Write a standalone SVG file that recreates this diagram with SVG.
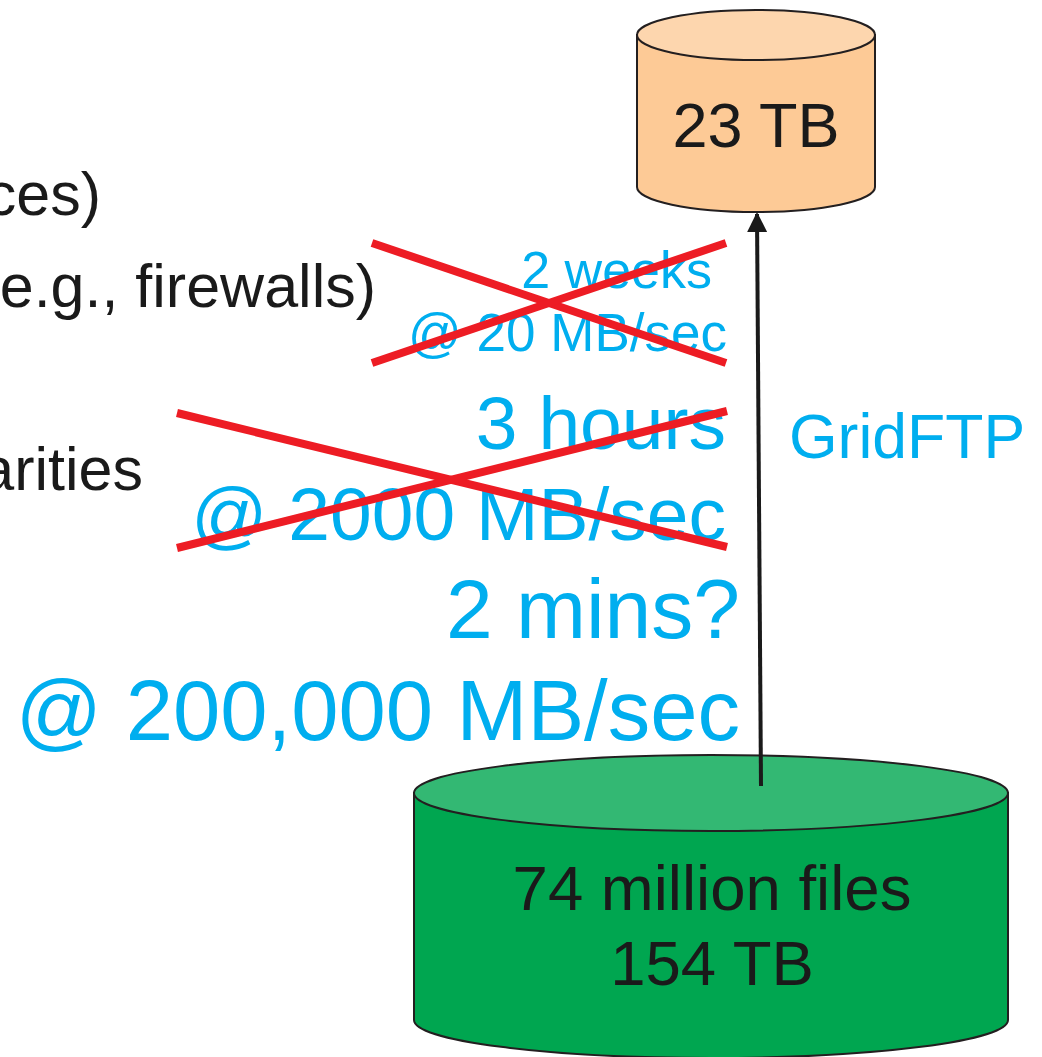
<svg xmlns="http://www.w3.org/2000/svg" width="1042" height="1057" viewBox="0 0 1042 1057">
  <defs>
    <style>
      .txt { font-family: "Liberation Sans", Arial, sans-serif; }
      .black { fill: #1a1a1a; }
      .blue { fill: #00aeef; }
      .cyl { stroke: #231f20; stroke-width: 2; }
      .cross { stroke: #ed1c24; stroke-width: 8; stroke-linecap: butt; }
      .conn { stroke: #1a1a1a; stroke-width: 4; fill: none; }
    </style>
    <marker id="arrow" viewBox="0 0 10 10" refX="9" refY="5" markerWidth="5" markerHeight="5" orient="auto" markerUnits="strokeWidth">
      <path d="M0,0 L10,5 L0,10 Z" fill="#1a1a1a"/>
    </marker>
  </defs>
  <rect width="1042" height="1057" fill="#ffffff"/>

  <!-- partially visible bullet text on the left -->
  <g id="bullets" class="txt black" font-size="61" text-anchor="end">
    <text x="101" y="215">ces)</text>
    <text x="376" y="307">e.g., firewalls)</text>
    <text x="143" y="490">arities</text>
  </g>

  <!-- destination store -->
  <g id="store-23tb">
    <path class="cyl" d="M637,35 L637,187 A119,25 0 0 0 875,187 L875,35 Z" fill="#fdca96"/>
    <ellipse class="cyl" cx="756" cy="35" rx="119" ry="25" fill="#fdd6ae"/>
    <text class="txt black" x="756" y="147" font-size="63" text-anchor="middle">23 TB</text>
  </g>

  <!-- source store -->
  <g id="store-154tb">
    <path class="cyl" d="M414,793 L414,1020 A297,38 0 0 0 1008,1020 L1008,793 Z" fill="#00a650"/>
    <ellipse class="cyl" cx="711" cy="793" rx="297" ry="38" fill="#33b873"/>
    <text class="txt black" x="712" y="910" font-size="63.5" text-anchor="middle">74 million files</text>
    <text class="txt black" x="712" y="985" font-size="63.5" text-anchor="middle">154 TB</text>
  </g>

  <!-- transfer connector -->
  <g id="connectors">
    <line class="conn" x1="761" y1="786" x2="757" y2="214" marker-end="url(#arrow)"/>
    <text class="txt blue" x="789" y="458" font-size="62.5">GridFTP</text>
  </g>

  <!-- transfer time estimates -->
  <g id="estimate-20">
    <text class="txt blue" x="712" y="288" font-size="52" text-anchor="end">2 weeks</text>
    <text class="txt blue" x="727" y="351" font-size="53" text-anchor="end">@ 20 MB/sec</text>
    <line class="cross" x1="372" y1="243" x2="726" y2="363"/>
    <line class="cross" x1="372" y1="363" x2="726" y2="243"/>
  </g>

  <g id="estimate-2000">
    <text class="txt blue" x="726" y="449" font-size="75" text-anchor="end">3 hours</text>
    <text class="txt blue" x="726" y="540" font-size="75" text-anchor="end">@ 2000 MB/sec</text>
    <line class="cross" x1="177" y1="413" x2="727" y2="547"/>
    <line class="cross" x1="177" y1="548" x2="727" y2="411"/>
  </g>

  <g id="estimate-200000">
    <text class="txt blue" x="740" y="638" font-size="84" text-anchor="end">2 mins?</text>
    <text class="txt blue" x="740" y="740" font-size="85" text-anchor="end">@ 200,000 MB/sec</text>
  </g>
</svg>
